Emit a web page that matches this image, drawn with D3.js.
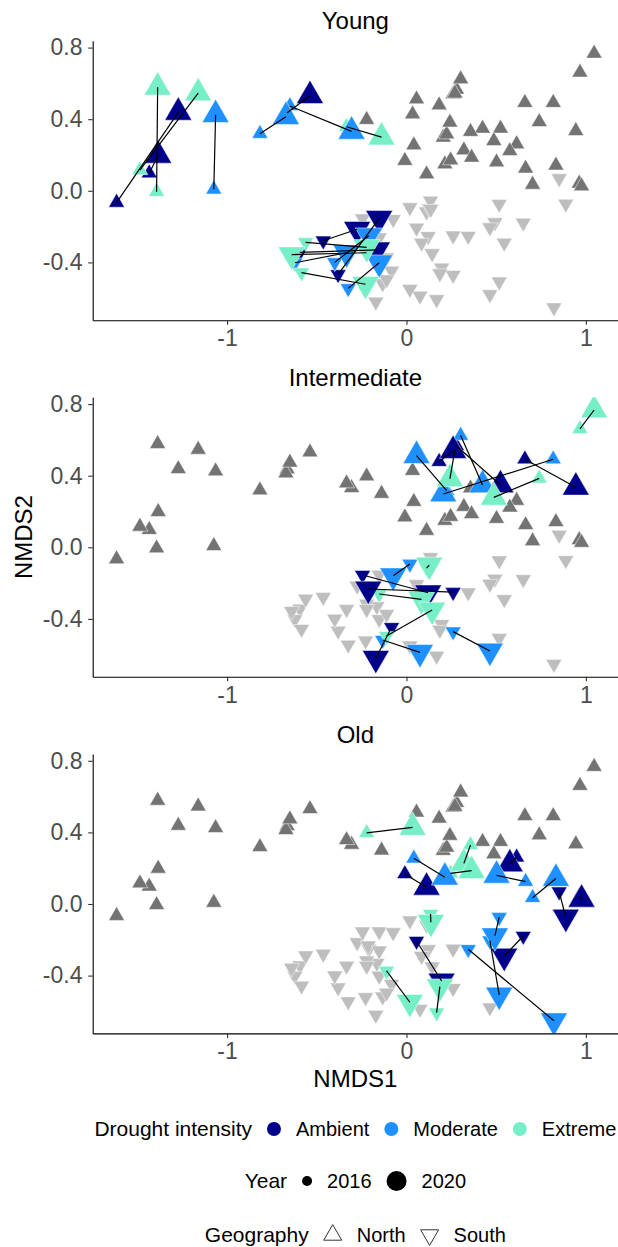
<!DOCTYPE html>
<html>
<head>
<meta charset="UTF-8">
<title>NMDS by stand age</title>
<script src="https://d3js.org/d3.v7.min.js"></script>
<style>
  body { margin: 0; background: #fff; }
  text { font-family: "Liberation Sans", Arial, sans-serif; }
</style>
</head>
<body>
<script>
// ---- data ----
var ages = ["Young", "Intermediate", "Old"];
var droughtLevels = ["Ambient", "Moderate", "Extreme"];
var droughtColors = ["#00008B", "#1E90FF", "#76EEC6"];
var years = [2016, 2020];
var geographies = ["North", "South"];
var xTicks = [-1, 0, 1];
var yTicks = [-0.4, 0, 0.4, 0.8];

// plot order inside each age class (same for every age)
var siteDrought = ["Ambient", "Ambient", "Ambient", "Moderate", "Moderate", "Moderate", "Extreme", "Extreme", "Extreme",
                   "Ambient", "Ambient", "Ambient", "Moderate", "Moderate", "Moderate", "Extreme", "Extreme", "Extreme"];
var siteGeo = ["North", "North", "North", "North", "North", "North", "North", "North", "North",
               "South", "South", "South", "South", "South", "South", "South", "South", "South"];

var youngX2016 = [-1.616, -1.434, -0.665, -1.074, -0.817, -0.650, -1.393, -1.486, -0.334,
                  -0.464, -0.381, -0.594, -0.400, -0.622, -0.325, -0.562, -0.585, -0.222];
var youngY2016 = [-0.066, 0.098, 0.436, 0.008, 0.319, 0.474, -0.005, 0.116, 0.358,
                  -0.279, -0.467, -0.344, -0.400, -0.402, -0.545, -0.288, -0.457, -0.346];
var youngX2020 = [-1.272, -1.384, -0.538, -1.064, -0.672, -0.306, -1.387, -1.161, -0.139,
                  -0.275, -0.152, -0.165, -0.210, -0.334, -0.152, -0.222, -0.228, -0.640];
var youngY2020 = [0.438, 0.198, 0.531, 0.425, 0.414, 0.332, 0.578, 0.546, 0.300,
                  -0.215, -0.154, -0.330, -0.251, -0.346, -0.402, -0.316, -0.522, -0.357];

var interX2016 = [0.660, 0.182, 0.279, 0.818, 0.302, 0.224, 0.967, 0.740, 0.270,
                  -0.245, 0.260, -0.083, 0.019, -0.133, 0.260, 0.112, -0.152, -0.111];
var interY2016 = [0.492, 0.478, 0.566, 0.492, 0.624, 0.316, 0.661, 0.385, 0.544,
                  -0.155, -0.251, -0.447, -0.093, -0.518, -0.471, -0.117, -0.261, -0.496];
var interX2020 = [0.944, 0.260, 0.524, 0.205, 0.424, 0.056, 1.046, 0.487, 0.242,
                  0.121, -0.213, -0.171, -0.074, 0.075, 0.465, 0.127, 0.084, 0.143];
var interY2020 = [0.335, 0.540, 0.348, 0.298, 0.348, 0.512, 0.767, 0.279, 0.382,
                  -0.254, -0.233, -0.620, -0.159, -0.587, -0.579, -0.099, -0.291, -0.350];

var oldX2016 = [-0.009, 0.614, 0.963, 0.041, 0.664, 0.703, -0.222, 0.357, 0.246,
                0.651, 0.056, 0.851, 0.517, 0.344, 0.465, 0.134, -0.111, 0.168];
var oldY2016 = [0.168, 0.261, 0.041, 0.255, 0.125, 0.035, 0.397, 0.330, 0.171,
                -0.179, -0.207, 0.069, -0.074, -0.253, -0.205, -0.056, -0.374, -0.607];
var oldX2020 = [0.112, 0.576, 0.976, 0.214, 0.502, 0.833, 0.034, 0.320, 0.363,
                0.545, 0.196, 0.888, 0.493, 0.822, 0.517, 0.136, 0.019, 0.186];
var oldY2020 = [0.093, 0.223, 0.026, 0.149, 0.160, 0.142, 0.428, 0.227, 0.186,
                -0.291, -0.430, -0.073, -0.177, -0.652, -0.508, -0.102, -0.549, -0.462];

// ---- layout ----
var W = 618, H = 1247;
var plotLeft = 92.7, plotRight = 618;
var panelTops = [40.8, 397.3, 754];
var panelH = 279.4;
var midX = (plotLeft + plotRight) / 2;
var greyNorth = "#737373", greySouth = "#BEBEBE";
var sideSmall = 16, sideBig = 27, sideGrey = 16;

var xs16 = [youngX2016, interX2016, oldX2016], ys16 = [youngY2016, interY2016, oldY2016];
var xs20 = [youngX2020, interX2020, oldX2020], ys20 = [youngY2020, interY2020, oldY2020];

var points = [], pairs = [];
ages.forEach(function(age, a){
    siteDrought.forEach(function(dr, i){
        var p16 = {age: age, drought: dr, geo: siteGeo[i], year: years[0], x: xs16[a][i], y: ys16[a][i]};
        var p20 = {age: age, drought: dr, geo: siteGeo[i], year: years[1], x: xs20[a][i], y: ys20[a][i]};
        points.push(p16, p20);
        pairs.push({age: age, a: p16, b: p20});
    });
});

function expand(ext){
    var d = (ext[1] - ext[0]) * 0.05;
    return [ext[0] - d, ext[1] + d];
}

var x = d3.scaleLinear()
    .domain(expand(d3.extent(points, function(d){ return d.x; })))
    .range([plotLeft, plotRight]);
var yDomain = expand(d3.extent(points, function(d){ return d.y; }));
var color = d3.scaleOrdinal().domain(droughtLevels).range(droughtColors);

var tri = d3.symbol().type(d3.symbolTriangle);
function triPath(side){ return tri.size(Math.sqrt(3) / 4 * side * side)(); }
function place(d, y){
    return "translate(" + x(d.x) + "," + y(d.y) + ")" + (d.geo === "South" ? " rotate(180)" : "");
}

var svg = d3.select("body").append("svg").attr("width", W).attr("height", H);
svg.append("rect").attr("width", W).attr("height", H).attr("fill", "#fff");

ages.forEach(function(age, a){
    var top = panelTops[a];
    var y = d3.scaleLinear().domain(yDomain).range([top + panelH, top]);
    var g = svg.append("g");

    g.append("clipPath").attr("id", "clip" + a)
        .append("rect").attr("x", plotLeft).attr("y", top)
        .attr("width", plotRight - plotLeft).attr("height", panelH);

    var inner = g.append("g").attr("clip-path", "url(#clip" + a + ")");

    // other age classes in grey
    inner.selectAll("path.bg").data(points.filter(function(d){ return d.age !== age; }))
        .enter().append("path").attr("class", "bg")
        .attr("d", triPath(sideGrey))
        .attr("transform", function(d){ return place(d, y); })
        .attr("fill", function(d){ return d.geo === "North" ? greyNorth : greySouth; })
        .attr("stroke", "#fff").attr("stroke-width", 0.5);

    // this age class, 2016 then 2020
    var own = points.filter(function(d){ return d.age === age; })
        .sort(function(p, q){ return p.year - q.year; });
    inner.selectAll("path.pt").data(own)
        .enter().append("path").attr("class", "pt")
        .attr("d", function(d){ return triPath(d.year === 2016 ? sideSmall : sideBig); })
        .attr("transform", function(d){ return place(d, y); })
        .attr("fill", function(d){ return color(d.drought); })
        .attr("stroke", "#fff").attr("stroke-width", 0.5);

    inner.selectAll("line.pair").data(pairs.filter(function(d){ return d.age === age; }))
        .enter().append("line").attr("class", "pair")
        .attr("x1", function(d){ return x(d.a.x); })
        .attr("y1", function(d){ return y(d.a.y); })
        .attr("x2", function(d){ return x(d.b.x); })
        .attr("y2", function(d){ return y(d.b.y); })
        .attr("stroke", "#000").attr("stroke-width", 1.2);

    // axes
    var xa = g.append("g").attr("transform", "translate(0," + (top + panelH) + ")")
        .call(d3.axisBottom(x).tickValues(xTicks).tickSize(4.5).tickSizeOuter(0).tickPadding(5.2)
            .tickFormat(function(d){ return String(d); }));
    var ya = g.append("g").attr("transform", "translate(" + plotLeft + ",0)")
        .call(d3.axisLeft(y).tickValues(yTicks).tickSize(4.5).tickSizeOuter(0).tickPadding(5.7)
            .tickFormat(function(d){ return d.toFixed(1); }));
    [xa, ya].forEach(function(ax){
        ax.attr("font-family", null).attr("font-size", null);
        ax.select(".domain").attr("stroke", "#000").attr("stroke-width", 1.1);
        ax.selectAll(".tick line").attr("stroke", "#333").attr("stroke-width", 1.1);
        ax.selectAll(".tick text").attr("fill", "#4D4D4D").style("font-size", "23px");
    });

    g.append("text").attr("x", midX).attr("y", top - 11.5)
        .attr("text-anchor", "middle").style("font-size", "24px").attr("fill", "#000")
        .text(age);
});

svg.append("text").attr("x", midX).attr("y", 1087)
    .attr("text-anchor", "middle").style("font-size", "24px").text("NMDS1");
svg.append("text").attr("transform", "translate(32," + ((panelTops[0] + panelTops[2] + panelH) / 2) + ") rotate(-90)")
    .attr("text-anchor", "middle").style("font-size", "24px").text("NMDS2");

// ---- legends ----
function legendRow(cy, title, items){
    var row = svg.append("g");
    var cx = 0;
    var t = row.append("text").attr("x", 0).attr("y", cy + 7.3).style("font-size", "21px").text(title);
    cx = t.node().getComputedTextLength();
    items.forEach(function(it){
        var kc = cx + 15 + it.half;
        it.draw(row, kc, cy);
        var lx = kc + it.half + 15;
        var lt = row.append("text").attr("x", lx).attr("y", cy + 7).style("font-size", "20px").text(it.label);
        cx = lx + lt.node().getComputedTextLength();
    });
    row.attr("transform", "translate(" + (midX - cx / 2) + ",0)");
}

legendRow(1129, "Drought intensity", droughtLevels.map(function(lv){
    return {label: lv, half: 7, draw: function(g, kx, ky){
        g.append("circle").attr("cx", kx).attr("cy", ky).attr("r", 7).attr("fill", color(lv));
    }};
}));

legendRow(1181, "Year", years.map(function(yr){
    var r = yr === 2016 ? 5 : 10;
    return {label: String(yr), half: r, draw: function(g, kx, ky){
        g.append("circle").attr("cx", kx).attr("cy", ky).attr("r", r).attr("fill", "#000");
    }};
}));

legendRow(1235, "Geography", geographies.map(function(geo){
    return {label: geo, half: 9, draw: function(g, kx, ky){
        g.append("path").attr("d", triPath(18))
            .attr("transform", "translate(" + kx + "," + ky + ")" + (geo === "South" ? " rotate(180)" : ""))
            .attr("fill", "none").attr("stroke", "#333").attr("stroke-width", 1);
    }};
}));
</script>
</body>
</html>
